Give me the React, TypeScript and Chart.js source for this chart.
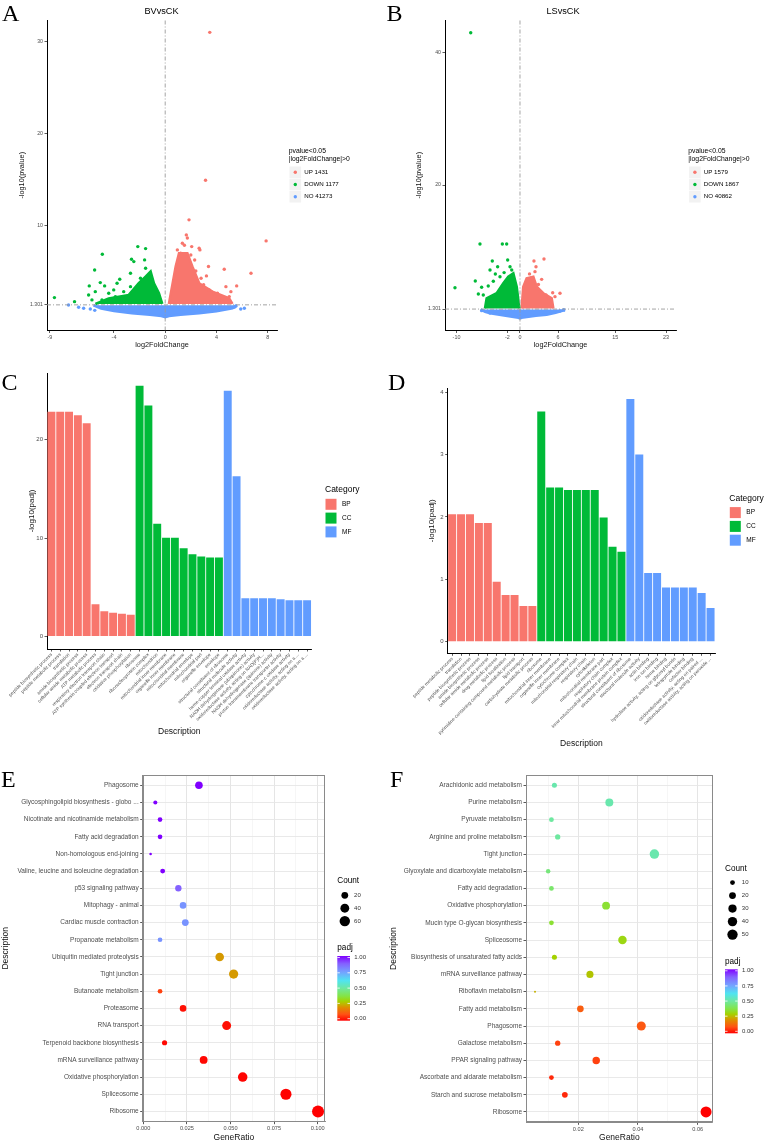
import React, { useEffect, useRef } from "react";
import { Chart, registerables } from "chart.js";

Chart.register(...registerables);

const SANS = "'Liberation Sans', Arial, Helvetica, sans-serif";
const SERIF = "'Liberation Serif', 'Times New Roman', Times, serif";
Chart.defaults.font.family = SANS;

const RED = "#F8766D";
const GREEN = "#00BA38";
const BLUE = "#619CFF";
const TICK_TXT = "#4d4d4d";

// ---------------- Volcano thresholds ----------------
const PVAL_LINE = 1.301; // -log10(0.05)
const FC_LINE = 0;

// ---------------- Panel A: BVvsCK ----------------
const A_TITLE = "BVvsCK";
const A_LEGEND = ["UP 1431", "DOWN 1177", "NO 41273"];
const A_XTICKS = [-9, -4, 0, 4, 8];
const A_YTICKS = [1.301, 10, 20, 30];
const A_UP_POINTS: number[][] = [
  [3.48, 31.05], [3.15, 14.9], [1.86, 10.58], [7.88, 8.28], [1.65, 8.94], [1.73, 8.6], [2.65, 7.49],
  [2.71, 7.3], [2.07, 7.66], [3.38, 5.48], [4.61, 5.19], [6.7, 4.75], [3.22, 4.46], [2.39, 5.0],
  [5.58, 3.37], [4.74, 3.29], [4.08, 2.57], [5.13, 2.74], [3.43, 2.93], [1.21, 6.94], [0.95, 7.3],
  [1.34, 8.03], [2.0, 6.75], [4.22, 1.84], [5.0, 2.2], [1.5, 7.8], [1.1, 6.5], [2.3, 6.2], [3.0, 3.5],
  [3.9, 2.3], [4.5, 2.0], [2.8, 4.2],
];
const A_DOWN_POINTS: number[][] = [
  [-8.65, 2.09], [-7.08, 1.65], [-5.93, 3.37], [-5.51, 5.11], [-4.91, 6.83], [-5.46, 2.74], [-5.07, 3.73],
  [-4.73, 3.37], [-4.41, 2.57], [-4.02, 2.93], [-3.76, 3.66], [-3.55, 4.1], [-2.71, 4.75], [-2.63, 6.28],
  [-2.45, 6.02], [-2.14, 7.66], [-1.53, 7.44], [-1.61, 6.21], [-1.53, 5.3], [-1.93, 4.2], [-2.71, 3.29],
  [-3.24, 2.74], [-3.89, 2.2], [-4.94, 1.84], [-5.72, 1.84], [-5.98, 2.38],
];
const A_NO_POINTS: number[][] = [
  [-7.55, 1.29], [-6.76, 1.04], [-6.37, 0.93], [-5.85, 0.85], [-5.5, 0.7], [5.52, 1.17], [6.18, 0.93],
  [5.9, 0.85], [5.4, 1.05],
];
const A_UP_CLOUD: number[][] = [
  [0.29, 1.4], [0.82, 5.48], [1.08, 6.94], [1.73, 6.94], [2.12, 5.48], [2.65, 3.66], [3.69, 2.74], [4.99, 2.02], [5.25, 1.4],
];
const A_DOWN_CLOUD: number[][] = [
  [-5.45, 1.4], [-4.41, 2.0], [-2.84, 2.38], [-2.06, 3.66], [-1.53, 4.38], [-1.14, 4.93], [-0.88, 3.66], [-0.49, 2.57], [-0.23, 1.4],
];
const A_NO_CLOUD: number[][] = [
  [-5.6, 1.25], [-5.0, 0.9], [-4.0, 0.62], [-2.6, 0.4], [-1.2, 0.22], [-0.3, 0.08], [0, -0.05], [0.3, 0.08],
  [1.2, 0.22], [2.65, 0.38], [4.0, 0.6], [5.25, 0.93], [5.6, 1.25],
];

// ---------------- Panel B: LSvsCK ----------------
const B_TITLE = "LSvsCK";
const B_LEGEND = ["UP 1579", "DOWN 1867", "NO 40862"];
const B_XTICKS = [-10, -2, 0, 6, 15, 23];
const B_YTICKS = [1.301, 20, 40];
const B_UP_POINTS: number[][] = [
  [2.2, 8.55], [3.78, 8.85], [2.52, 7.69], [2.36, 6.94], [3.41, 5.78], [1.94, 5.9], [6.3, 3.68], [5.15, 3.77],
  [5.51, 3.17], [4.09, 3.42], [1.5, 6.6], [2.9, 5.0], [4.5, 3.0],
];
const B_DOWN_POINTS: number[][] = [
  [-7.76, 42.95], [-6.3, 11.1], [-2.78, 11.1], [-2.1, 11.1], [-4.36, 8.55], [-1.94, 8.7], [-10.24, 4.52],
  [-7.04, 5.53], [-3.52, 7.69], [-1.57, 7.69], [-3.88, 6.59], [-4.72, 7.19], [-6.56, 3.57], [-6.04, 4.58],
  [-5.0, 4.78], [-3.15, 6.18], [-5.78, 3.42], [-2.5, 6.8], [-1.3, 7.2], [-4.2, 5.5],
];
const B_NO_POINTS: number[][] = [[-6.04, 1.06], [-4.72, 0.7], [6.3, 1.0], [6.9, 1.2]];
const B_UP_CLOUD: number[][] = [
  [0.26, 1.4], [0.52, 4.67], [1.05, 5.94], [2.1, 6.18], [2.62, 4.67], [3.67, 3.68], [4.99, 2.92], [5.25, 1.4],
];
const B_DOWN_CLOUD: number[][] = [
  [-5.51, 1.4], [-5.25, 2.92], [-3.67, 3.68], [-2.62, 5.18], [-1.84, 6.18], [-1.05, 6.69], [-0.52, 4.67], [-0.1, 1.4],
];
const B_NO_CLOUD: number[][] = [
  [-6.2, 1.25], [-5.5, 0.9], [-4.7, 0.66], [-2.5, 0.35], [-0.5, 0.05], [0, -0.1], [0.5, 0.05], [2.5, 0.3],
  [4.2, 0.45], [5.6, 0.75], [6.8, 1.1], [6.9, 1.25],
];

// ---------------- Panel C: GO bars (BVvsCK) ----------------
const CATEGORIES = ["BP", "CC", "MF"];
const C_BP_TERMS = [
  "peptide biosynthetic process", "peptide metabolic process", "translation", "amide biosynthetic process",
  "cellular amide metabolic process", "ATP metabolic process", "respiratory electron transport chain",
  "ATP synthesis coupled electron transport", "electron transport chain", "oxidative phosphorylation",
];
const C_CC_TERMS = [
  "ribosome", "ribonucleoprotein complex", "mitochondrion", "mitochondrial inner membrane", "organelle inner membrane",
  "mitochondrial membrane", "mitochondrial envelope", "mitochondrial part", "organelle envelope", "envelope",
];
const C_MF_TERMS = [
  "structural constituent of ribosome", "structural molecule activity", "heme-copper terminal oxidase activity",
  "NADH dehydrogenase (ubiquinone) activity", "oxidoreductase activity, acting on NAD(P)H...",
  "NADH dehydrogenase (quinone) activity", "proton transmembrane transporter activity",
  "cytochrome-c oxidase activity", "oxidoreductase activity, acting on a ...", "oxidoreductase activity, acting on a ...",
];
const C_BP = [22.86, 22.86, 22.86, 22.5, 21.7, 3.27, 2.55, 2.41, 2.3, 2.2];
const C_CC = [25.5, 23.5, 11.46, 10.03, 10.03, 8.98, 8.37, 8.13, 8.03, 8.03];
const C_MF = [25.0, 16.3, 3.88, 3.88, 3.88, 3.88, 3.78, 3.67, 3.67, 3.67];
const C_YTICKS = [0, 10, 20];

// ---------------- Panel D: GO bars (LSvsCK) ----------------
const D_BP_TERMS = [
  "peptide metabolic process", "translation", "peptide biosynthetic process", "amide biosynthetic process",
  "cellular amide metabolic process", "drug metabolic process", "lipid localization",
  "pyrimidine-containing compound metabolic process", "lipid transport", "carbohydrate metabolic process",
];
const D_CC_TERMS = [
  "ribosome", "mitochondrial inner membrane", "organelle inner membrane", "cytochrome complex",
  "mitochondrial respiratory chain", "respiratory chain", "cytoskeleton", "mitochondrial membrane part",
  "respiratory chain complex", "inner mitochondrial membrane protein complex",
];
const D_MF_TERMS = [
  "structural constituent of ribosome", "structural molecule activity", "actin binding", "iron ion binding",
  "heme binding", "hydrolase activity, acting on glycosyl bonds", "tetrapyrrole binding", "cofactor binding",
  "oxidoreductase activity, acting on paired ...", "oxidoreductase activity, acting on peroxide ...",
];
const D_BP = [2.04, 2.04, 2.04, 1.9, 1.9, 0.96, 0.75, 0.75, 0.57, 0.57];
const D_CC = [3.69, 2.47, 2.47, 2.43, 2.43, 2.43, 2.43, 1.99, 1.52, 1.44];
const D_MF = [3.89, 3.0, 1.1, 1.1, 0.87, 0.87, 0.87, 0.87, 0.78, 0.54];
const D_YTICKS = [0, 1, 2, 3, 4];

// ---------------- Panel E: KEGG (BVvsCK) ----------------
const E_TERMS = [
  "Phagosome", "Glycosphingolipid biosynthesis - globo ...", "Nicotinate and nicotinamide metabolism",
  "Fatty acid degradation", "Non-homologous end-joining", "Valine, leucine and isoleucine degradation",
  "p53 signaling pathway", "Mitophagy - animal", "Cardiac muscle contraction", "Propanoate metabolism",
  "Ubiquitin mediated proteolysis", "Tight junction", "Butanoate metabolism", "Proteasome", "RNA transport",
  "Terpenoid backbone biosynthesis", "mRNA surveillance pathway", "Oxidative phosphorylation", "Spliceosome", "Ribosome",
];
const E_RATIO = [0.0319, 0.0069, 0.0096, 0.0096, 0.0042, 0.0111, 0.0201, 0.0228, 0.0241, 0.0096, 0.0438, 0.0518, 0.0096, 0.0228, 0.0478, 0.0122, 0.0346, 0.057, 0.0818, 0.1002];
const E_COUNT = [27, 6, 8, 8, 4, 9, 17, 19, 20, 8, 37, 44, 8, 19, 41, 10, 29, 48, 70, 85];
const E_PADJ = [1.0, 1.0, 1.0, 1.0, 1.0, 1.0, 0.88, 0.78, 0.78, 0.78, 0.22, 0.22, 0.08, 0.02, 0.02, 0.01, 0.01, 0.005, 0.001, 0.0];
const E_XTICKS = [0, 0.025, 0.05, 0.075, 0.1];
const E_COUNT_BREAKS = [20, 40, 60];

// ---------------- Panel F: KEGG (LSvsCK) ----------------
const F_TERMS = [
  "Arachidonic acid metabolism", "Purine metabolism", "Pyruvate metabolism", "Arginine and proline metabolism",
  "Tight junction", "Glyoxylate and dicarboxylate metabolism", "Fatty acid degradation", "Oxidative phosphorylation",
  "Mucin type O-glycan biosynthesis", "Spliceosome", "Biosynthesis of unsaturated fatty acids",
  "mRNA surveillance pathway", "Riboflavin metabolism", "Fatty acid metabolism", "Phagosome", "Galactose metabolism",
  "PPAR signaling pathway", "Ascorbate and aldarate metabolism", "Starch and sucrose metabolism", "Ribosome",
];
const F_RATIO = [0.012, 0.0304, 0.011, 0.0131, 0.0455, 0.0099, 0.011, 0.0293, 0.011, 0.0348, 0.012, 0.0239, 0.0055, 0.0207, 0.0411, 0.0131, 0.026, 0.011, 0.0155, 0.0628];
const F_COUNT = [11, 28, 10, 12, 41, 9, 10, 27, 10, 32, 11, 22, 5, 19, 37, 12, 24, 10, 14, 57];
const F_PADJ = [0.52, 0.52, 0.5, 0.5, 0.52, 0.45, 0.43, 0.36, 0.36, 0.32, 0.3, 0.28, 0.25, 0.12, 0.11, 0.08, 0.08, 0.05, 0.05, 0.0];
const F_XTICKS = [0.02, 0.04, 0.06];
const F_COUNT_BREAKS = [10, 20, 30, 40, 50];

const PADJ_BREAKS = [1.0, 0.75, 0.5, 0.25, 0.0];
const PADJ_STOPS: [number, string][] = [
  [0, "#ff0000"], [0.1, "#ff5214"], [0.2, "#e08a00"], [0.25, "#c4b000"], [0.3, "#a4d200"], [0.38, "#84e446"],
  [0.5, "#6ee8a0"], [0.62, "#50e4f0"], [0.75, "#74a2ff"], [0.88, "#8462ff"], [1, "#8000ff"],
];

// ---------------- helpers ----------------
function hexRgb(h: string) {
  const n = parseInt(h.slice(1), 16);
  return [(n >> 16) & 255, (n >> 8) & 255, n & 255];
}
function padjColor(v: number) {
  for (let i = 1; i < PADJ_STOPS.length; i++) {
    const [v1, c1] = PADJ_STOPS[i];
    const [v0, c0] = PADJ_STOPS[i - 1];
    if (v <= v1) {
      const t = (v - v0) / (v1 - v0 || 1);
      const a = hexRgb(c0), b = hexRgb(c1);
      const m = a.map((x, k) => Math.round(x + (b[k] - x) * t));
      return `rgb(${m[0]},${m[1]},${m[2]})`;
    }
  }
  return PADJ_STOPS[PADJ_STOPS.length - 1][1];
}
function sizeScale(counts: number[], rMin: number, rMax: number) {
  const lo = Math.min(...counts), hi = Math.max(...counts);
  return (c: number) => rMin + (rMax - rMin) * Math.sqrt(Math.max(0, (c - lo) / (hi - lo)));
}
const rE = sizeScale(E_COUNT, 1.3, 6.0);
const rF = sizeScale(F_COUNT, 1.0, 5.5);

function fitBox(size: number) {
  return (scale: any) => {
    if (scale.isHorizontal()) scale.height = size;
    else scale.width = size;
    scale.paddingLeft = 0;
    scale.paddingRight = 0;
    scale.paddingTop = 0;
    scale.paddingBottom = 0;
  };
}
function setTicks(values: number[]) {
  return (scale: any) => {
    scale.ticks = values.map((v) => ({ value: v }));
  };
}
const toXY = (arr: number[][]) => arr.map(([x, y]) => ({ x, y }));

type Ann =
  | { k: "text"; t: string; x: number; y: number; s: number; f?: string; c?: string; a?: CanvasTextAlign; base?: CanvasTextBaseline }
  | { k: "circle"; x: number; y: number; r: number; c: string }
  | { k: "rect"; x: number; y: number; w: number; h: number; c: string }
  | { k: "cbar"; x: number; y: number; w: number; h: number; tickY: number[] };

function overlayPlugin(items: Ann[], ox: number, oy: number, frame?: string) {
  return {
    id: "overlay",
    afterDraw(chart: any) {
      const ctx: CanvasRenderingContext2D = chart.ctx;
      ctx.save();
      if (frame) {
        const a = chart.chartArea;
        ctx.strokeStyle = frame;
        ctx.lineWidth = 1;
        ctx.strokeRect(Math.round(a.left) + 0.5, Math.round(a.top) + 0.5, Math.round(a.right - a.left) - 1, Math.round(a.bottom - a.top) - 1);
      }
      for (const it of items) {
        if (it.k === "text") {
          ctx.font = `${it.s}px ${it.f || SANS}`;
          ctx.fillStyle = it.c || "#000";
          ctx.textAlign = it.a || "left";
          ctx.textBaseline = it.base || "middle";
          ctx.fillText(it.t, it.x - ox, it.y - oy);
        } else if (it.k === "circle") {
          ctx.fillStyle = it.c;
          ctx.beginPath();
          ctx.arc(it.x - ox, it.y - oy, it.r, 0, Math.PI * 2);
          ctx.fill();
        } else if (it.k === "rect") {
          ctx.fillStyle = it.c;
          ctx.fillRect(it.x - ox, it.y - oy, it.w, it.h);
        } else if (it.k === "cbar") {
          const x = it.x - ox, y = it.y - oy;
          const g = ctx.createLinearGradient(0, y, 0, y + it.h);
          for (const [v, c] of PADJ_STOPS) g.addColorStop(1 - v, c);
          ctx.fillStyle = g;
          ctx.fillRect(x, y, it.w, it.h);
          ctx.strokeStyle = "#fff";
          ctx.lineWidth = 0.8;
          for (const ty of it.tickY) {
            const yy = ty - oy;
            ctx.beginPath();
            ctx.moveTo(x, yy); ctx.lineTo(x + it.w * 0.2, yy);
            ctx.moveTo(x + it.w * 0.8, yy); ctx.lineTo(x + it.w, yy);
            ctx.stroke();
          }
        }
      }
      ctx.restore();
    },
  };
}

function axisGrid() {
  return { display: true, drawOnChartArea: false, drawTicks: true, tickLength: 2.5, color: "#333", tickColor: "#333", lineWidth: 0.8 };
}
function axisBorder() {
  return { display: true, color: "#000", width: 1 };
}

// ---------------- Volcano ----------------
function volcanoConfig(p: any) {
  const cloud = (data: number[][], color: string) => ({
    type: "line",
    data: toXY(data),
    showLine: true,
    fill: "shape",
    backgroundColor: color,
    borderColor: color,
    borderWidth: 2.6,
    pointRadius: 0,
    tension: 0,
    order: 5,
  });
  const pts = (data: number[][], color: string) => ({
    type: "scatter",
    data: toXY(data),
    backgroundColor: color,
    pointRadius: 1.7,
    pointBorderWidth: 0,
    borderWidth: 0,
    order: 3,
  });
  const thr = (data: { x: number; y: number }[]) => ({
    type: "line",
    data,
    borderColor: "#9a9a9a",
    borderWidth: 0.9,
    borderDash: [4, 2, 1, 2],
    pointRadius: 0,
    fill: false,
    order: 1,
  });
  return {
    type: "scatter",
    data: {
      datasets: [
        cloud(p.noCloud, BLUE), cloud(p.downCloud, GREEN), cloud(p.upCloud, RED),
        pts(p.no, BLUE), pts(p.down, GREEN), pts(p.up, RED),
        thr([{ x: p.xMin, y: PVAL_LINE }, { x: p.xMax, y: PVAL_LINE }]),
        thr([{ x: FC_LINE, y: p.yMin }, { x: FC_LINE, y: p.yMax }]),
      ],
    },
    options: {
      responsive: false,
      animation: false,
      events: [],
      layout: { autoPadding: false, padding: { left: 0, top: p.padTop, right: p.padRight, bottom: 0 } },
      plugins: { legend: { display: false }, tooltip: { enabled: false }, title: { display: false } },
      scales: {
        x: {
          type: "linear", min: p.xMin, max: p.xMax,
          afterBuildTicks: setTicks(p.xTicks), afterFit: fitBox(p.xH),
          grid: axisGrid(), border: axisBorder(),
          ticks: { font: { size: 5.4 }, color: TICK_TXT, padding: 1, maxRotation: 0, autoSkip: false, callback: (v: number) => String(v) },
          title: { display: true, text: "log2FoldChange", font: { size: 7.3 }, color: "#111", padding: { top: 0, bottom: p.xTitlePad } },
        },
        y: {
          type: "linear", min: p.yMin, max: p.yMax,
          afterBuildTicks: setTicks(p.yTicks), afterFit: fitBox(p.yW),
          grid: axisGrid(), border: axisBorder(),
          ticks: { font: { size: 5.2 }, color: TICK_TXT, padding: 1.5, autoSkip: false, callback: (v: number) => (v === PVAL_LINE ? "1.301" : String(v)) },
          title: { display: true, text: "-log10(pvalue)", font: { size: 7.3 }, color: "#111", padding: { top: p.yTitlePad, bottom: 0 } },
        },
      },
    },
    plugins: [overlayPlugin(p.overlay, p.ox, p.oy)],
  };
}

function volcanoLegend(x: number, labels: string[]): Ann[] {
  const out: Ann[] = [
    { k: "text", t: "pvalue<0.05", x, y: 150.7, s: 6.8 },
    { k: "text", t: "|log2FoldChange|>0", x, y: 159.6, s: 6.8 },
  ];
  const cols = [RED, GREEN, BLUE];
  labels.forEach((lab, i) => {
    const cy = 172.3 + i * 12.2;
    out.push({ k: "rect", x: x + 0.8, y: cy - 5.8, w: 11.6, h: 11.6, c: "#f2f2f2" });
    out.push({ k: "circle", x: x + 6.6, y: cy, r: 1.7, c: cols[i] });
    out.push({ k: "text", t: lab, x: x + 15.5, y: cy, s: 6.2 });
  });
  return out;
}

// ---------------- Bars ----------------
function barConfig(p: any) {
  const labels = [...p.bpT, ...p.ccT, ...p.mfT];
  const values = [...p.bp, ...p.cc, ...p.mf];
  const colors = [...p.bp.map(() => RED), ...p.cc.map(() => GREEN), ...p.mf.map(() => BLUE)];
  return {
    type: "bar",
    data: { labels, datasets: [{ data: values, backgroundColor: colors, borderWidth: 0, barPercentage: 0.9, categoryPercentage: 1 }] },
    options: {
      responsive: false,
      animation: false,
      events: [],
      layout: { autoPadding: false, padding: { left: 0, top: p.padTop, right: p.padRight, bottom: 0 } },
      plugins: { legend: { display: false }, tooltip: { enabled: false } },
      scales: {
        x: {
          type: "category", offset: true, afterFit: fitBox(p.xH),
          grid: { ...axisGrid(), offset: false }, border: axisBorder(),
          ticks: { font: { size: 4.7 }, color: TICK_TXT, padding: 0.5, minRotation: 45, maxRotation: 45, autoSkip: false },
          title: { display: true, text: "Description", font: { size: 8.5 }, color: "#111", padding: { top: 0, bottom: p.xTitlePad } },
        },
        y: {
          type: "linear", min: p.yMin, max: p.yMax,
          afterBuildTicks: setTicks(p.yTicks), afterFit: fitBox(p.yW),
          grid: axisGrid(), border: axisBorder(),
          ticks: { font: { size: 6 }, color: TICK_TXT, padding: 1.5, callback: (v: number) => String(v) },
          title: { display: true, text: "-log10(padj)", font: { size: 8 }, color: "#111", padding: { top: p.yTitlePad, bottom: 0 } },
        },
      },
    },
    plugins: [overlayPlugin(p.overlay, p.ox, p.oy)],
  };
}

function barLegend(x: number, y0: number): Ann[] {
  const out: Ann[] = [{ k: "text", t: "Category", x, y: y0, s: 8.5 }];
  const cols = [RED, GREEN, BLUE];
  CATEGORIES.forEach((c, i) => {
    const top = y0 + 8.3 + i * 13.8;
    out.push({ k: "rect", x, y: top, w: 12, h: 12, c: "#ffffff" });
    out.push({ k: "rect", x: x + 0.5, y: top + 0.5, w: 11, h: 11, c: cols[i] });
    out.push({ k: "text", t: c, x: x + 17, y: top + 6, s: 6.5 });
  });
  return out;
}

// ---------------- Dot plots ----------------
function dotConfig(p: any) {
  const isMajor = (v: number) => p.xMajor.some((m: number) => Math.abs(m - v) < 1e-9);
  return {
    type: "scatter",
    data: {
      datasets: [{
        data: p.terms.map((_: string, i: number) => ({ x: p.ratio[i], y: i })),
        pointRadius: p.count.map(p.r),
        pointBackgroundColor: p.padj.map(padjColor),
        pointBorderWidth: 0,
        borderWidth: 0,
      }],
    },
    options: {
      responsive: false,
      animation: false,
      events: [],
      layout: { autoPadding: false, padding: { left: 0, top: p.padTop, right: p.padRight, bottom: 0 } },
      plugins: { legend: { display: false }, tooltip: { enabled: false } },
      scales: {
        x: {
          type: "linear", min: p.xMin, max: p.xMax,
          afterBuildTicks: setTicks(p.xAll), afterFit: fitBox(p.xH),
          grid: {
            display: true, drawOnChartArea: true, drawTicks: true, tickLength: 2.5,
            color: (c: any) => (isMajor(c.tick?.value) ? "#e2e2e2" : "#f0f0f0"),
            lineWidth: (c: any) => (isMajor(c.tick?.value) ? 0.9 : 0.6),
            tickColor: (c: any) => (isMajor(c.tick?.value) ? "#444" : "rgba(0,0,0,0)"),
          },
          border: { display: true, color: "#8a8a8a", width: 1 },
          ticks: { font: { size: 5.6 }, color: TICK_TXT, padding: 1, maxRotation: 0, autoSkip: false, callback: (v: number) => (isMajor(v) ? v.toFixed(p.dec) : "") },
          title: { display: true, text: "GeneRatio", font: { size: 8.5 }, color: "#111", padding: { top: 0, bottom: p.xTitlePad } },
        },
        y: {
          type: "linear", min: -0.6, max: p.terms.length - 0.4, reverse: true,
          afterBuildTicks: setTicks(p.terms.map((_: string, i: number) => i)), afterFit: fitBox(p.yW),
          grid: { display: true, drawOnChartArea: true, drawTicks: true, tickLength: 2.5, color: "#e6e6e6", lineWidth: 0.9, tickColor: "#444" },
          border: { display: true, color: "#8a8a8a", width: 1 },
          ticks: { font: { size: 6.5 }, color: TICK_TXT, padding: 1.5, autoSkip: false, callback: (v: number) => p.terms[Math.round(v)] ?? "" },
          title: { display: true, text: "Description", font: { size: 8.5 }, color: "#111", padding: { top: p.yTitlePad, bottom: 0 } },
        },
      },
    },
    plugins: [overlayPlugin(p.overlay, p.ox, p.oy, "#8a8a8a")],
  };
}

function dotLegend(x: number, countY: number, breaks: number[], r: (c: number) => number, stepC: number, padjY: number, barTop: number, barH: number): Ann[] {
  const out: Ann[] = [{ k: "text", t: "Count", x, y: countY, s: 8.2 }];
  breaks.forEach((b, i) => {
    const cy = countY + 14.3 + i * stepC;
    out.push({ k: "circle", x: x + 7.5, y: cy, r: r(b), c: "#000" });
    out.push({ k: "text", t: String(b), x: x + 16.8, y: cy, s: 6, c: "#333" });
  });
  out.push({ k: "text", t: "padj", x, y: padjY, s: 8.2 });
  const tickY = PADJ_BREAKS.map((v) => barTop + 1.5 + (1 - v) * (barH - 3.5));
  out.push({ k: "cbar", x, y: barTop, w: 12.7, h: barH, tickY });
  PADJ_BREAKS.forEach((v, i) => {
    out.push({ k: "text", t: v.toFixed(2), x: x + 17, y: tickY[i], s: 6, c: "#333" });
  });
  return out;
}

// ---------------- Component ----------------
function ChartBox({ x, y, w, h, make }: { x: number; y: number; w: number; h: number; make: () => any }) {
  const ref = useRef<HTMLCanvasElement>(null);
  useEffect(() => {
    if (!ref.current) return;
    const chart = new Chart(ref.current, make());
    return () => chart.destroy();
  }, []);
  return <canvas ref={ref} width={w} height={h} style={{ position: "absolute", left: x, top: y, width: w, height: h }} />;
}

const letter = (t: string, x: number, y: number): Ann => ({ k: "text", t, x, y, s: 24, f: SERIF, base: "alphabetic" });

export default function App() {
  const panels = [
    {
      x: 0, y: 0, w: 380, h: 351,
      make: () => volcanoConfig({
        up: A_UP_POINTS, down: A_DOWN_POINTS, no: A_NO_POINTS,
        upCloud: A_UP_CLOUD, downCloud: A_DOWN_CLOUD, noCloud: A_NO_CLOUD,
        xMin: -9.23, xMax: 8.73, yMin: -1.5, yMax: 32.4, xTicks: A_XTICKS, yTicks: A_YTICKS,
        padTop: 20, padRight: 103, yW: 47, xH: 20.5, yTitlePad: 17.3, xTitlePad: 1.6,
        ox: 0, oy: 0,
        overlay: [
          letter("A", 2, 20.5),
          { k: "text", t: A_TITLE, x: 161.5, y: 11, s: 9.2, a: "center" },
          ...volcanoLegend(288.7, A_LEGEND),
        ],
      }),
    },
    {
      x: 380, y: 0, w: 386, h: 351,
      make: () => volcanoConfig({
        up: B_UP_POINTS, down: B_DOWN_POINTS, no: B_NO_POINTS,
        upCloud: B_UP_CLOUD, downCloud: B_DOWN_CLOUD, noCloud: B_NO_CLOUD,
        xMin: -11.81, xMax: 24.57, yMin: -1.93, yMax: 44.87, xTicks: B_XTICKS, yTicks: B_YTICKS,
        padTop: 20, padRight: 90, yW: 65, xH: 20.5, yTitlePad: 34.9, xTitlePad: 1.6,
        ox: 380, oy: 0,
        overlay: [
          letter("B", 386.5, 20.5),
          { k: "text", t: B_TITLE, x: 563, y: 11, s: 9.2, a: "center" },
          ...volcanoLegend(688.3, B_LEGEND),
        ],
      }),
    },
    {
      x: 0, y: 360, w: 380, h: 381,
      make: () => barConfig({
        bpT: C_BP_TERMS, ccT: C_CC_TERMS, mfT: C_MF_TERMS, bp: C_BP, cc: C_CC, mf: C_MF,
        yMin: -1.28, yMax: 26.8, yTicks: C_YTICKS,
        padTop: 13, padRight: 68.5, yW: 47, xH: 92, yTitlePad: 27.2, xTitlePad: 4.2,
        ox: 0, oy: 360,
        overlay: [letter("C", 1.5, 390), ...barLegend(325, 490)],
      }),
    },
    {
      x: 380, y: 360, w: 386, h: 390,
      make: () => barConfig({
        bpT: D_BP_TERMS, ccT: D_CC_TERMS, mfT: D_MF_TERMS, bp: D_BP, cc: D_CC, mf: D_MF,
        yMin: -0.186, yMax: 4.06, yTicks: D_YTICKS,
        padTop: 28.3, padRight: 51, yW: 67.7, xH: 96.7, yTitlePad: 46.9, xTitlePad: 0.9,
        ox: 380, oy: 360,
        overlay: [letter("D", 388, 390), ...barLegend(729.3, 498.3)],
      }),
    },
    {
      x: 0, y: 760, w: 380, h: 384,
      make: () => dotConfig({
        terms: E_TERMS, ratio: E_RATIO, count: E_COUNT, padj: E_PADJ, r: rE,
        xMin: -0.00034, xMax: 0.10419, xMajor: E_XTICKS,
        xAll: [0, 0.0125, 0.025, 0.0375, 0.05, 0.0625, 0.075, 0.0875, 0.1], dec: 3,
        padTop: 15, padRight: 55, yW: 142.7, xH: 22.3, yTitlePad: 0.9, xTitlePad: 0.9,
        ox: 0, oy: 760,
        overlay: [letter("E", 1, 786.7), ...dotLegend(337.3, 881, E_COUNT_BREAKS, rE, 12.9, 948, 956, 64.7)],
      }),
    },
    {
      x: 380, y: 760, w: 386, h: 384,
      make: () => dotConfig({
        terms: F_TERMS, ratio: F_RATIO, count: F_COUNT, padj: F_PADJ, r: rF,
        xMin: 0.00248, xMax: 0.06503, xMajor: F_XTICKS,
        xAll: [0.01, 0.02, 0.03, 0.04, 0.05, 0.06], dec: 2,
        padTop: 15, padRight: 53.3, yW: 146, xH: 21.7, yTitlePad: 8.9, xTitlePad: 0.9,
        ox: 380, oy: 760,
        overlay: [letter("F", 390, 786.7), ...dotLegend(725, 868.3, F_COUNT_BREAKS, rF, 13, 961.7, 969.3, 64)],
      }),
    },
  ];
  return (
    <div style={{ position: "absolute", left: 0, top: 0, width: 766, height: 1144, background: "#fff", overflow: "hidden" }}>
      {panels.map((p, i) => (
        <ChartBox key={i} x={p.x} y={p.y} w={p.w} h={p.h} make={p.make} />
      ))}
    </div>
  );
}
